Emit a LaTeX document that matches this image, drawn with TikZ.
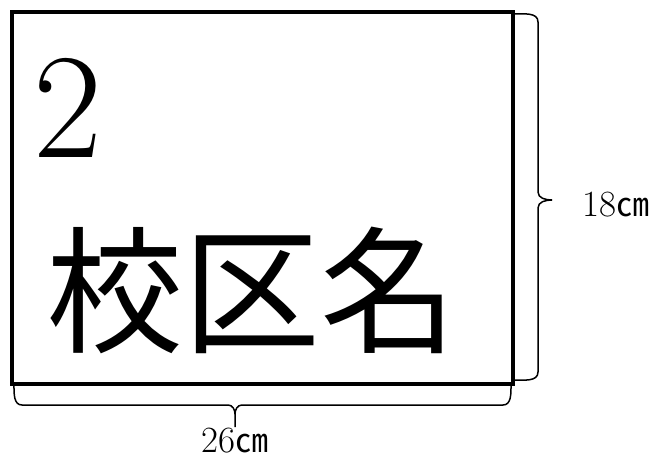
\documentclass[tikz,border=0pt]{standalone}
\usepackage{fontspec}
\newfontfamily\cjk{Noto Sans CJK JP}
\begin{document}
\begin{tikzpicture}[x=1pt,y=-1pt,
  frame/.style={line width=3.5pt},
  bracepath/.style={line width=1.5pt, line join=round},
  dimlabel/.style={inner sep=0pt, font=\fontsize{37}{37}\selectfont}]
\useasboundingbox (0,0) rectangle (656,465);
% sign board
\coordinate (tl) at (12,12);
\coordinate (br) at (513,384);
\draw[frame] (tl) rectangle (br);
\node[inner sep=0pt, anchor=base, font=\fontsize{150}{150}\selectfont] (num) at (68,158) {2};
\node[inner sep=0pt, font=\cjk\fontsize{137}{137}\selectfont] (name) at (252,290) {校区名};
% right brace
\coordinate (r1) at (514,14);
\coordinate (r2) at (514,380);
\coordinate (rtip) at (552,200);
\draw[bracepath] (r1) to[out=0,in=90] (538,22) -- (538,192) to[out=-90,in=180] (rtip);
\draw[bracepath] (rtip) to[out=180,in=90] (538,208) -- (538,372) to[out=-90,in=0] (r2);
\node[dimlabel] (h) at (616,205) {18{\cjk\fontsize{33}{33}\selectfont ㎝}};
% bottom brace
\coordinate (b1) at (14,385);
\coordinate (b2) at (511,385);
\coordinate (btip) at (235,427);
\draw[bracepath] (b1) to[out=-90,in=180] (22,405) -- (228,405) to[out=0,in=90] (235,414) -- (btip);
\draw[bracepath] (b2) to[out=-90,in=0] (503,405) -- (242,405) to[out=180,in=90] (235,414);
\node[dimlabel] (w) at (235,441) {26{\cjk\fontsize{33}{33}\selectfont ㎝}};
\end{tikzpicture}
\end{document}
